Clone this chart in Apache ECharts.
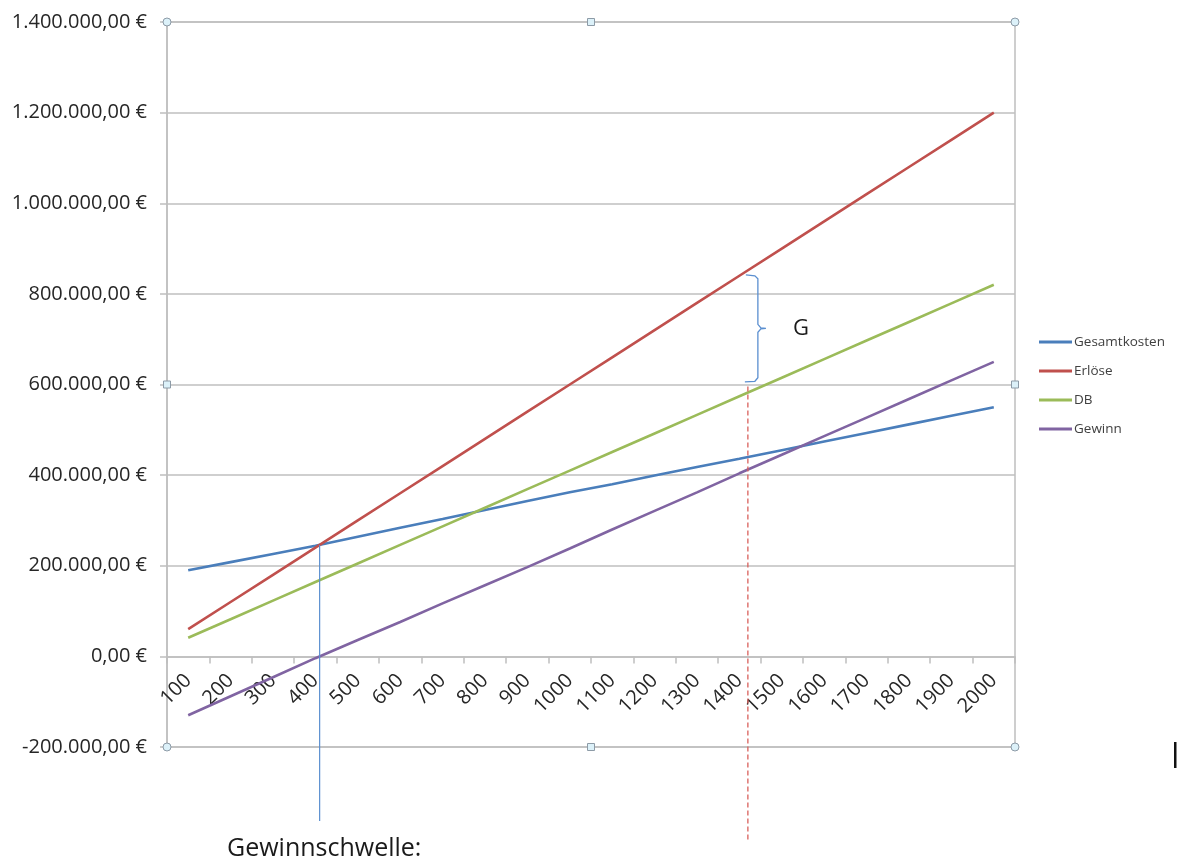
<!DOCTYPE html>
<html>
<head>
<meta charset="utf-8">
<script src="https://cdn.jsdelivr.net/npm/echarts@6/dist/echarts.min.js"></script>
<style>
  html, body { margin: 0; padding: 0; background: #fff; }
  #chart { width: 1178px; height: 861px; }
</style>
</head>
<body>
<div id="chart"></div>
<script>
// Menge (Stück)
const categories = ['100', '200', '300', '400', '500', '600', '700', '800', '900', '1000',
  '1100', '1200', '1300', '1400', '1500', '1600', '1700', '1800', '1900', '2000'];

// Werte in Euro
const gesamtkosten = [190000, 208000, 226000, 244000, 264000, 284000, 303000, 323000, 343000, 362000,
  380000, 399000, 418000, 436000, 455000, 474000, 493000, 512000, 531000, 550000];
const erloese = [60000, 120000, 180000, 240000, 300000, 360000, 420000, 480000, 540000, 600000,
  660000, 720000, 780000, 840000, 900000, 960000, 1020000, 1080000, 1140000, 1200000];
const db = [41000, 82000, 123000, 164000, 205000, 246000, 287000, 328000, 369000, 410000,
  451000, 492000, 533000, 574000, 615000, 656000, 697000, 738000, 779000, 820000];
const gewinn = [-130000, -88000, -46000, -4000, 36000, 76000, 117000, 157000, 197000, 238000,
  280000, 321000, 362000, 404000, 445000, 486000, 527000, 568000, 609000, 650000];

const seriesNames = ['Gesamtkosten', 'Erlöse', 'DB', 'Gewinn'];
const seriesColors = ['#4a7ebb', '#c0504d', '#9bbb59', '#8064a2'];

// Wertachse
const yMin = -200000;
const yMax = 1400000;
const yStep = 200000;

// Hilfslinie bei einer Menge von ca. 1420 Stück und Klammer "G"
const markIndex = 13.2;
const markTopValue = 600000;
const bracketTopValue = 842000;
const bracketBottomValue = 606000;

const FONT = '"Open Sans", "Noto Sans", sans-serif';
const GRID = { left: 167, right: 163, top: 22, bottom: 114 };
const W = 1178, H = 861;
const plotL = GRID.left, plotR = W - GRID.right, plotT = GRID.top, plotB = H - GRID.bottom;

// Die Kategorieachse liegt auf der Nulllinie: Abstand vom unteren Rand
const zeroOffset = (0 - yMin) / (yMax - yMin) * (plotB - plotT);

function euro(v) {
  const neg = v < 0;
  const s = Math.abs(Math.round(v)).toString().replace(/\B(?=(\d{3})+(?!\d))/g, '.');
  return (neg ? '-' : '') + s + ',00 €';
}

const chart = echarts.init(document.getElementById('chart'), null, { renderer: 'canvas' });

const gridColor = '#bfbfbf';

chart.setOption({
  animation: false,
  backgroundColor: '#ffffff',
  grid: {
    left: GRID.left, right: GRID.right, top: GRID.top, bottom: GRID.bottom,
    show: true, borderColor: gridColor, borderWidth: 1.5,
    outerBoundsMode: 'none'
  },
  legend: {
    orient: 'vertical',
    left: 1039,
    top: 335,
    padding: 0,
    itemWidth: 33,
    itemHeight: 3,
    itemGap: 15,
    icon: 'rect',
    data: seriesNames,
    textStyle: { fontFamily: FONT, fontSize: 13.5, color: '#404040', lineHeight: 14, padding: [0, 0, 0, -3] }
  },
  xAxis: {
    type: 'category',
    data: categories,
    boundaryGap: true,
    position: 'bottom',
    offset: -zeroOffset,
    axisLine: { onZero: false, lineStyle: { color: gridColor, width: 1.5 } },
    axisTick: { show: true, length: 7, lineStyle: { color: gridColor, width: 1.5 } },
    axisLabel: { interval: 0, rotate: 45, margin: 21, fontFamily: FONT, fontSize: 20, color: '#262626' },
    splitLine: { show: false }
  },
  yAxis: {
    type: 'value',
    min: yMin, max: yMax, interval: yStep,
    axisLine: { show: true, lineStyle: { color: gridColor, width: 1.5 } },
    axisTick: { show: true, length: 7, lineStyle: { color: gridColor, width: 1.5 } },
    axisLabel: { margin: 20, fontFamily: FONT, fontSize: 20, color: '#262626', formatter: euro },
    splitLine: { show: true, lineStyle: { color: gridColor, width: 1.5 } }
  },
  series: [gesamtkosten, erloese, db, gewinn].map((d, i) => ({
    name: seriesNames[i],
    type: 'line',
    data: d,
    symbol: 'none',
    color: seriesColors[i],
    lineStyle: { width: 2.6, color: seriesColors[i] },
    z: 3
  }))
});

// Pixelposition für einen (ggf. gebrochenen) Kategorieindex und Wert
function px(index, value) {
  const i0 = Math.max(0, Math.min(categories.length - 2, Math.floor(index)));
  const t = index - i0;
  const a = chart.convertToPixel({ gridIndex: 0 }, [i0, value]);
  const b = chart.convertToPixel({ gridIndex: 0 }, [i0 + 1, value]);
  return [a[0] + t * (b[0] - a[0]), a[1]];
}

// Gewinnschwelle: Nulldurchgang des Gewinns
let beIndex = 0;
for (let i = 0; i < gewinn.length - 1; i++) {
  if (gewinn[i] < 0 && gewinn[i + 1] >= 0) {
    beIndex = i + (-gewinn[i]) / (gewinn[i + 1] - gewinn[i]);
    break;
  }
}
const beLo = Math.floor(beIndex);
const beRevenue = erloese[beLo] + (beIndex - beLo) * (erloese[beLo + 1] - erloese[beLo]);
const beTop = px(beIndex, beRevenue);

const markTop = px(markIndex, markTopValue);
const bTop = px(markIndex, bracketTopValue)[1];
const bBot = px(markIndex, bracketBottomValue)[1];
const bx = markTop[0] + 10;
const bMid = (bTop + bBot) / 2;

const midX = (plotL + plotR) / 2, midY = (plotT + plotB) / 2;

const handleStyle = { fill: '#dcf1f9', stroke: '#8d9ba7', lineWidth: 1 };
const circles = [[plotL, plotT], [plotR, plotT], [plotL, plotB], [plotR, plotB]].map(p => ({
  type: 'circle', shape: { cx: p[0], cy: p[1], r: 4 }, style: handleStyle, z: 100
}));
const squares = [[midX, plotT], [midX, plotB], [plotL, midY], [plotR, midY]].map(p => ({
  type: 'rect', shape: { x: p[0] - 3.5, y: p[1] - 3.5, width: 7, height: 7 }, style: handleStyle, z: 100
}));

chart.setOption({
  graphic: [
    {
      type: 'line',
      shape: { x1: beTop[0], y1: beTop[1], x2: beTop[0], y2: 821 },
      style: { stroke: '#5b8fd0', lineWidth: 1.2 },
      z: 50
    },
    {
      type: 'line',
      shape: { x1: markTop[0], y1: markTop[1] + 2, x2: markTop[0], y2: 840 },
      style: { stroke: '#d9605c', lineWidth: 1.3, lineDash: [5, 3] },
      z: 50
    },
    {
      type: 'polyline',
      shape: {
        points: [
          [bx - 12, bTop], [bx - 3, bTop + 1], [bx, bTop + 4],
          [bx, bMid - 4], [bx + 3, bMid - 0.5], [bx + 8, bMid],
          [bx + 3, bMid + 0.5], [bx, bMid + 4],
          [bx, bBot - 4], [bx - 3, bBot - 0.5], [bx - 13, bBot]
        ]
      },
      style: { stroke: '#5b8fd0', lineWidth: 1.3, fill: null },
      z: 50
    },
    {
      type: 'text',
      x: 793, y: bMid,
      style: { text: 'G', font: '22px ' + FONT, fill: '#1a1a1a', align: 'left', verticalAlign: 'middle' },
      z: 50
    },
    {
      type: 'text',
      x: 227, y: 849,
      style: { text: 'Gewinnschwelle:', font: '25px ' + FONT, fill: '#1a1a1a', align: 'left', verticalAlign: 'middle' },
      z: 50
    },
    {
      type: 'rect',
      shape: { x: 1174, y: 742, width: 2.5, height: 26 },
      style: { fill: '#111111' },
      z: 50
    }
  ].concat(circles, squares)
});
</script>
</body>
</html>
